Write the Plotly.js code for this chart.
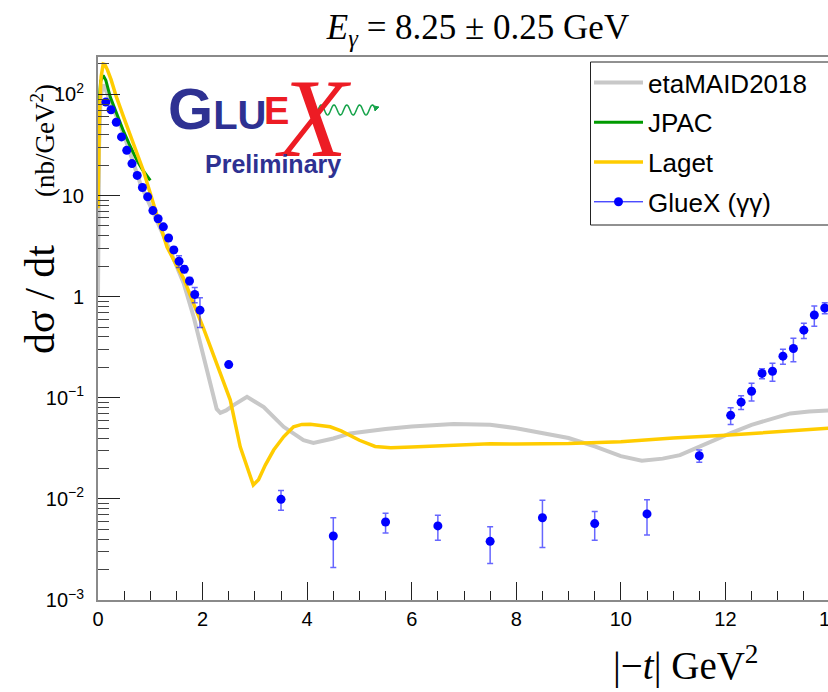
<!DOCTYPE html>
<html>
<head>
<meta charset="utf-8">
<script src="https://cdn.plot.ly/plotly-3.0.1.min.js"></script>
<style>
html,body{margin:0;padding:0;background:#fff;overflow:hidden;width:828px;height:692px;}
#chart{width:850px;height:692px;}
</style>
</head>
<body>
<div id="chart"></div>
<script>
// ---------------- data ----------------
const maidT = [0, 0.02, 0.05, 0.1, 0.15, 0.25, 0.49, 0.81, 1.1, 1.38, 1.64, 1.83, 2.02, 2.18, 2.27, 2.34, 2.45, 2.6, 2.85, 3.17, 3.55, 3.93, 4.12, 4.5, 4.82, 5.5, 6.0, 6.8, 7.5, 8.0, 9.0, 9.5, 10.0, 10.4, 10.8, 11.13, 11.5, 12.09, 12.5, 13.0, 13.24, 13.6, 14.0];
const maidY = [1.0, 30, 95, 125, 110, 81, 40.9, 13.1, 6.2, 2.86, 1.35, 0.63, 0.254, 0.119, 0.0775, 0.071, 0.075, 0.085, 0.102, 0.081, 0.0516, 0.0381, 0.0358, 0.0396, 0.0444, 0.049, 0.052, 0.055, 0.054, 0.050, 0.040, 0.033, 0.0265, 0.0238, 0.025, 0.0271, 0.033, 0.0444, 0.054, 0.064, 0.070, 0.073, 0.075];

const jpacT = [0, 0.02, 0.05, 0.1, 0.15, 0.235, 0.3, 0.43, 0.49, 0.6, 0.68, 0.745, 0.85, 1.0];
const jpacY = [35, 80, 135, 154, 138, 94, 77, 50, 43, 32, 25.9, 22.3, 18, 14.1];

const lagetT = [0, 0.01, 0.03, 0.06, 0.1, 0.13, 0.18, 0.25, 0.35, 0.49, 0.68, 0.87, 1.1, 1.32, 1.5, 1.64, 1.83, 2.02, 2.27, 2.53, 2.72, 2.87, 2.97, 3.07, 3.2, 3.36, 3.55, 3.74, 3.9, 4.06, 4.25, 4.44, 4.65, 4.82, 5.0, 5.3, 5.6, 6.0, 6.5, 7.0, 7.5, 8.0, 8.5, 9.0, 10.0, 11.0, 12.0, 13.0, 14.0];
const lagetY = [7.5, 20, 70, 150, 200, 198, 175, 140, 95, 59.7, 32, 17.5, 7.1, 3.1, 2.05, 1.5, 0.85, 0.484, 0.218, 0.095, 0.0327, 0.0194, 0.0137, 0.0155, 0.0216, 0.0304, 0.0411, 0.0516, 0.0545, 0.0548, 0.0535, 0.0516, 0.047, 0.0427, 0.038, 0.033, 0.032, 0.0325, 0.0335, 0.0345, 0.035, 0.0348, 0.0347, 0.0352, 0.0368, 0.040, 0.0425, 0.046, 0.050];

const gluexT = [0.15, 0.25, 0.35, 0.45, 0.55, 0.65, 0.75, 0.85, 0.95, 1.05, 1.15, 1.25, 1.35, 1.45, 1.55, 1.65, 1.75, 1.85, 1.95, 2.5, 3.5, 4.5, 5.5, 6.5, 7.5, 8.5, 9.5, 10.5, 11.5, 12.1, 12.3, 12.5, 12.7, 12.9, 13.1, 13.3, 13.5, 13.7, 13.9];
const gluexY = [84, 70.6, 53, 38, 28, 20.7, 15.8, 12, 9.7, 7.1, 5.9, 4.9, 3.8, 2.9, 2.24, 1.87, 1.43, 1.05, 0.735, 0.213, 0.0099, 0.0043, 0.0059, 0.0054, 0.0038, 0.0065, 0.0057, 0.0071, 0.0267, 0.067, 0.0905, 0.116, 0.174, 0.183, 0.258, 0.307, 0.466, 0.659, 0.773];
const gluexErr = [1.5, 1.2, 0.9, 0.7, 0.5, 0.4, 0.3, 0.25, 0.2, 0.15, 0.12, 0.1, 0.15, 0.2, 0.3, 0.15, 0.12, 0.18, 0.24, 0.008, 0.0022, 0.0022, 0.0013, 0.0015, 0.0015, 0.0032, 0.0018, 0.0027, 0.0037, 0.0125, 0.014, 0.023, 0.02, 0.037, 0.043, 0.08, 0.08, 0.15, 0.097];

const yTickVals = [0.001, 0.01, 0.1, 1, 10, 100];
const yTickText = ['10<sup>−3</sup>', '10<sup>−2</sup>', '10<sup>−1</sup>', '1', '10', '10<sup>2</sup>'];
const legendNames = ['etaMAID2018', 'JPAC', 'Laget', 'GlueX (γγ)'];

// ---------------- helpers ----------------
const PL = 98, PW = 732, PT = 57, PH = 543;
const px = x => (x - PL) / PW;
const py = y => (PT + PH - y) / PH;

// minor ticks on log axis (2..9 per decade)
const yMinor = [];
for (let e = -3; e <= 2; e++) for (let k = 2; k <= 9; k++) { const v = k * Math.pow(10, e); if (v < 234) yMinor.push(v); }

// GlueX points separated by gaps so the legend shows line + marker but the points are not joined
const gx = [], gy = [], ge = [];
gluexT.forEach((t, i) => { gx.push(t, t); gy.push(gluexY[i], null); ge.push(gluexErr[i], null); });

const traces = [
  {x: maidT, y: maidY, name: legendNames[0], mode: 'lines', line: {color: '#c8c8c8', width: 4}, legendgroup: 'a'},
  {x: jpacT, y: jpacY, name: legendNames[1], mode: 'lines', line: {color: '#009a00', width: 3}, legendgroup: 'b'},
  {x: lagetT, y: lagetY, name: legendNames[2], mode: 'lines', line: {color: '#ffcc00', width: 3.5}, legendgroup: 'c'},
  {x: gx, y: gy, name: legendNames[3], mode: 'lines+markers', connectgaps: false,
   line: {color: '#0000ff', width: 1}, marker: {color: '#0000ff', size: 9},
   error_y: {type: 'data', array: ge, color: 'rgba(0,0,255,0.6)', thickness: 1.5, width: 3},
   legendgroup: 'd'}
];

// decorative wave for the logo
let wave = '';
for (let i = 0; i <= 120; i++) {
  const X = 318 + i * 0.48;
  const Y = 110 - 5 * Math.sin(i / 120 * 2 * Math.PI * 4.5);
  wave += (i === 0 ? 'M' : 'L') + px(X).toFixed(5) + ',' + py(Y).toFixed(5) + ' ';
}

const serif = 'Liberation Serif';
const sans = 'Liberation Sans';

const layout = {
  width: 850, height: 692,
  margin: {l: PL, r: 850 - PL - PW, t: PT, b: 692 - PT - PH},
  paper_bgcolor: '#fff', plot_bgcolor: '#fff',
  title: {text: '<i>E</i><sub><i>γ</i></sub> = 8.25 ± 0.25 GeV', font: {family: serif, size: 35, color: '#000'},
          xref: 'paper', x: px(478), xanchor: 'center', yref: 'container', y: 1 - 27 / 692, yanchor: 'middle'},
  xaxis: {range: [0, 14], tick0: 0, dtick: 2, ticks: 'inside', ticklen: 18, tickwidth: 1, tickcolor: '#222',
          showline: true, linecolor: '#8a8a8a', linewidth: 2, mirror: true, showgrid: false, zeroline: false,
          tickfont: {family: sans, size: 20, color: '#000'}, ticklabelstandoff: 0,
          minor: {dtick: 0.5, ticks: 'inside', ticklen: 9, tickwidth: 1, tickcolor: '#222', showgrid: false}},
  yaxis: {type: 'log', range: [-3, 2.37], tickmode: 'array', tickvals: yTickVals, ticktext: yTickText,
          ticks: 'inside', ticklen: 22, tickwidth: 1, tickcolor: '#222',
          showline: true, linecolor: '#8a8a8a', linewidth: 2, mirror: true, showgrid: false, zeroline: false,
          tickfont: {family: sans, size: 20, color: '#000'}, ticklabelstandoff: 8,
          minor: {tickmode: 'array', tickvals: yMinor, ticks: 'inside', ticklen: 11, tickwidth: 1, tickcolor: '#444', showgrid: false}},
  legend: {x: px(589), y: py(59), xanchor: 'left', yanchor: 'top', bgcolor: 'rgba(0,0,0,0)', borderwidth: 0,
           font: {family: sans, size: 26, color: '#000'}, tracegroupgap: 3, itemwidth: 49, traceorder: 'grouped'},
  shapes: [
    {type: 'rect', xref: 'paper', yref: 'paper', x0: px(590.5), x1: px(845), y0: py(62), y1: py(225),
     fillcolor: '#fff', line: {color: '#222', width: 1}, layer: 'above'},
    {type: 'path', xref: 'paper', yref: 'paper', path: wave, line: {color: '#16a34a', width: 1.5}},
    {type: 'path', xref: 'paper', yref: 'paper',
     path: 'M' + px(374) + ',' + py(106) + ' L' + px(379) + ',' + py(107) + ' L' + px(375) + ',' + py(111) + ' Z',
     fillcolor: '#16a34a', line: {color: '#16a34a', width: 1}}
  ],
  annotations: [
    {xref: 'paper', yref: 'paper', x: px(40), y: py(300), text: 'dσ / dt', textangle: -90, showarrow: false,
     font: {family: serif, size: 42, color: '#000'}, xanchor: 'center', yanchor: 'middle'},
    {xref: 'paper', yref: 'paper', x: px(43), y: py(141), text: '(nb/GeV<sup>2</sup>)', textangle: -90, showarrow: false,
     font: {family: serif, size: 27, color: '#000'}, xanchor: 'center', yanchor: 'middle'},
    {xref: 'paper', yref: 'paper', x: px(686), y: py(663), text: '|−<i>t</i>| GeV<sup>2</sup>', showarrow: false,
     font: {family: serif, size: 39, color: '#000'}, xanchor: 'center', yanchor: 'middle'},
    // logo
    {xref: 'paper', yref: 'paper', x: px(166), y: py(109), text: '<b><span style="font-size:58px">G</span>LU</b>', showarrow: false,
     font: {family: sans, size: 40, color: '#2e3192'}, xanchor: 'left', yanchor: 'middle'},
    {xref: 'paper', yref: 'paper', x: px(262), y: py(111), text: '<b>E</b>', showarrow: false,
     font: {family: sans, size: 38, color: '#ed1c24'}, xanchor: 'left', yanchor: 'middle'},
    {xref: 'paper', yref: 'paper', x: px(313), y: py(118), text: '<i>X</i>', showarrow: false,
     font: {family: serif, size: 112, color: '#ed1c24'}, xanchor: 'center', yanchor: 'middle'},
    {xref: 'paper', yref: 'paper', x: px(273), y: py(164), text: '<b>Preliminary</b>', showarrow: false,
     font: {family: sans, size: 25, color: '#2e3192'}, xanchor: 'center', yanchor: 'middle'}
  ]
};

Plotly.newPlot('chart', traces, layout, {displayModeBar: false, staticPlot: true});
</script>
</body>
</html>
